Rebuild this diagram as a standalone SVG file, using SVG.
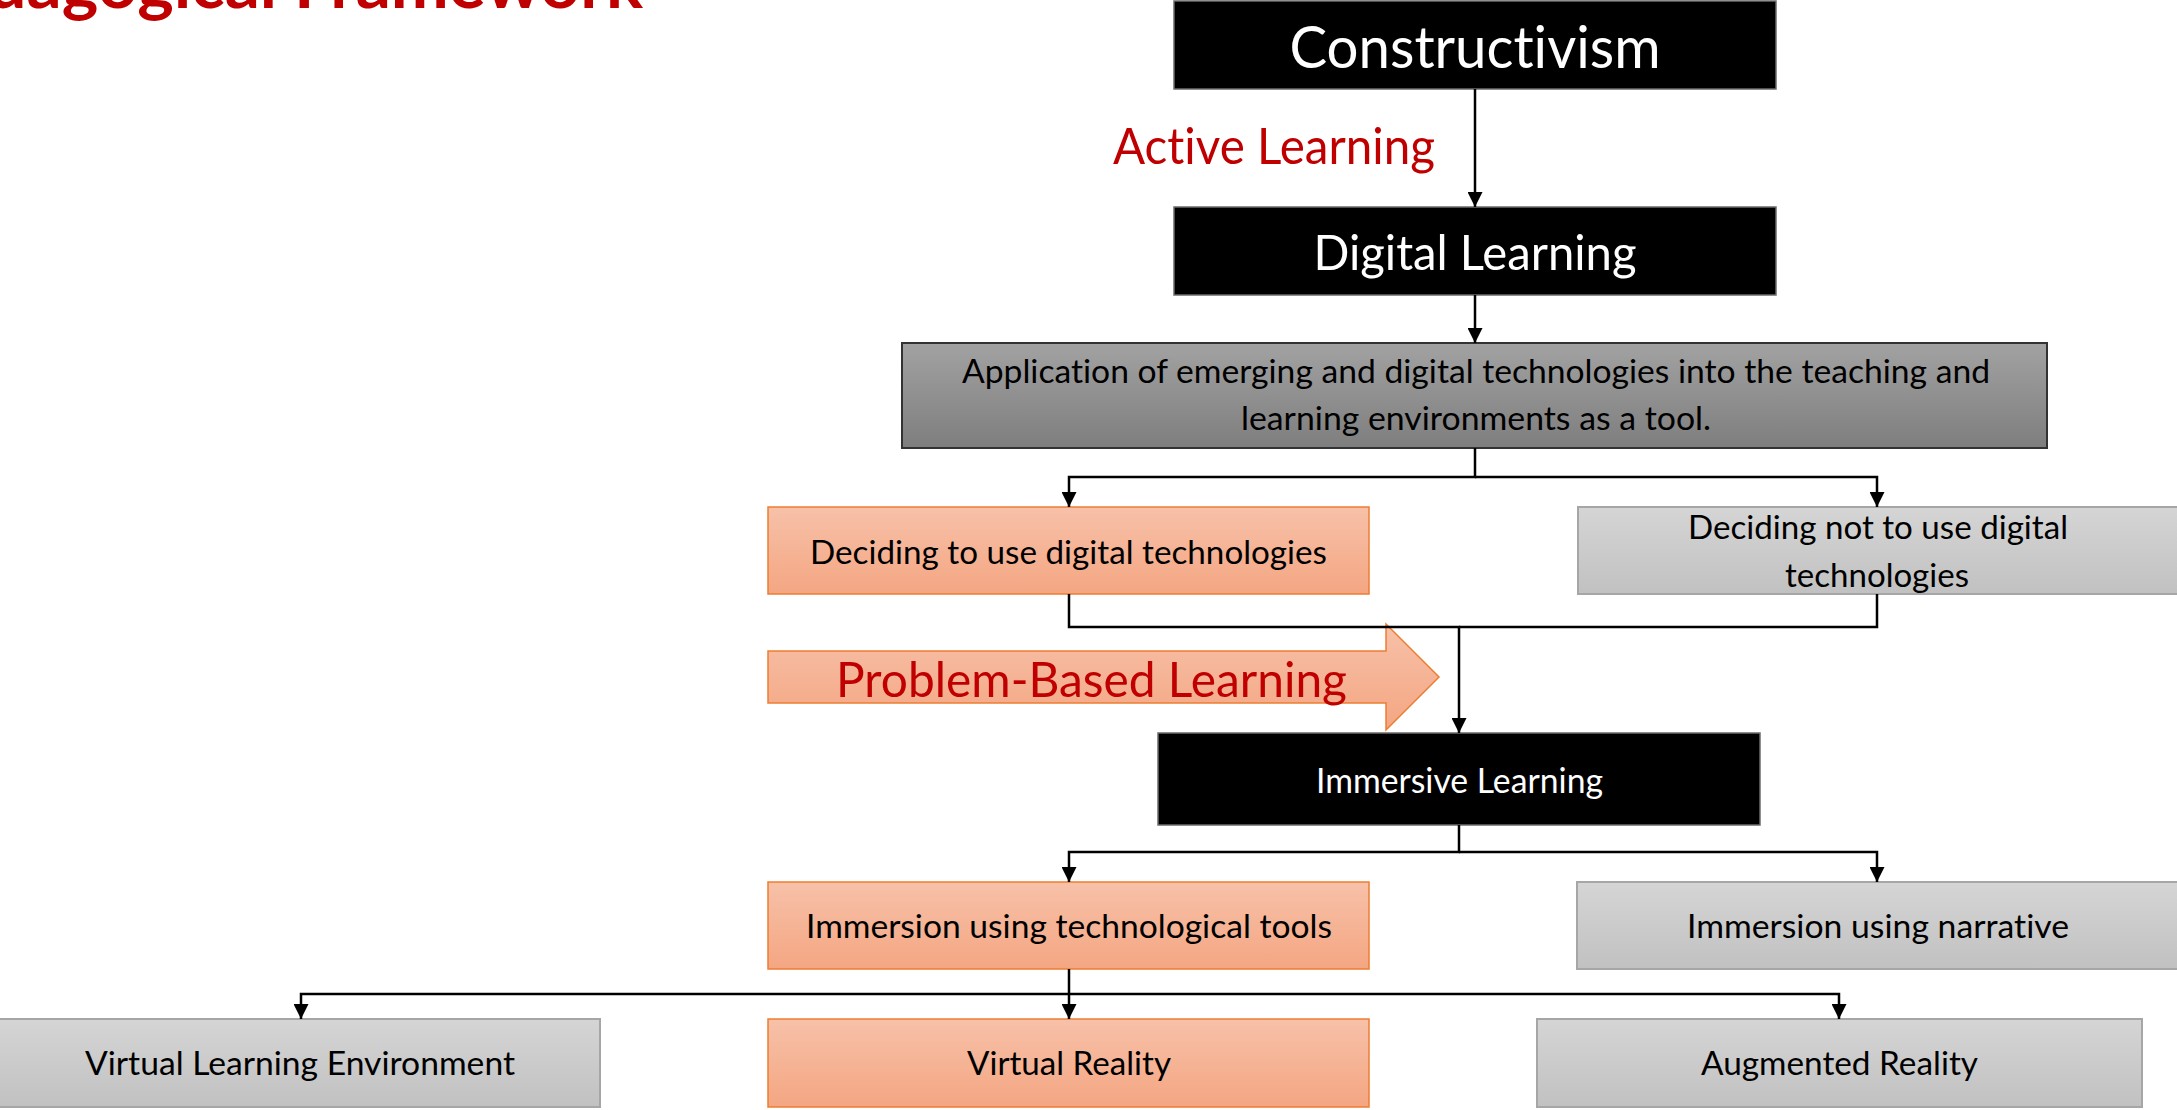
<svg xmlns="http://www.w3.org/2000/svg" width="2177" height="1110" viewBox="0 0 2177 1110">
  <defs>
    <linearGradient id="gOrange" x1="0" y1="0" x2="0" y2="1">
      <stop offset="0" stop-color="#f7c1a9"/>
      <stop offset="1" stop-color="#f4a682"/>
    </linearGradient>
    <linearGradient id="gGray" x1="0" y1="0" x2="0" y2="1">
      <stop offset="0" stop-color="#d5d5d5"/>
      <stop offset="1" stop-color="#c1c1c1"/>
    </linearGradient>
    <linearGradient id="gDark" x1="0" y1="0" x2="0" y2="1">
      <stop offset="0" stop-color="#a2a2a2"/>
      <stop offset="1" stop-color="#7e7e7e"/>
    </linearGradient>
    <marker id="arr" viewBox="0 0 16 16" refX="16" refY="8" markerWidth="15" markerHeight="15" orient="auto" markerUnits="userSpaceOnUse">
      <path d="M0,0 L16,8 L0,16 z" fill="#000"/>
    </marker>
    <style>
      text { font-family: Lato, "Open Sans", "Liberation Sans", sans-serif; font-variant-ligatures: none; }
      .blk { fill: #000; stroke: #6b6b6b; stroke-width: 1.5; }
      .org { fill: url(#gOrange); stroke: #ed7d31; stroke-width: 1.5; }
      .gry { fill: url(#gGray); stroke: #a6a6a6; stroke-width: 2; }
      .drk { fill: url(#gDark); stroke: #333; stroke-width: 2; }
      .wt { fill: #fff; text-anchor: middle; }
      .bt { fill: #000; text-anchor: middle; font-size: 33px; }
      .red { fill: #c00000; }
      .conn { fill: none; stroke: #000; stroke-width: 2.5; }
    </style>
  </defs>
  <rect width="2177" height="1110" fill="#fff"/>

  <g id="title">
    <text x="-91" y="8" font-size="66" font-weight="bold" class="red" textLength="734" lengthAdjust="spacingAndGlyphs">Pedagogical Framework</text>
  </g>

  <g id="constructivism">
    <rect class="blk" x="1174" y="1" width="602" height="88"/>
    <text class="wt" x="1475" y="68" font-size="58" textLength="371" lengthAdjust="spacingAndGlyphs">Constructivism</text>
  </g>

  <g id="active-learning">
    <text class="red" x="1113" y="164" font-size="50" textLength="322" lengthAdjust="spacingAndGlyphs">Active Learning</text>
  </g>

  <g id="digital-learning">
    <rect class="blk" x="1174" y="207" width="602" height="88"/>
    <text class="wt" x="1475" y="270" font-size="49" textLength="323" lengthAdjust="spacingAndGlyphs">Digital Learning</text>
  </g>

  <g id="application">
    <rect class="drk" x="902" y="343" width="1145" height="105"/>
    <text class="bt" x="1476" y="383" textLength="1028" lengthAdjust="spacingAndGlyphs">Application of emerging and digital technologies into the teaching and</text>
    <text class="bt" x="1476" y="430" textLength="470" lengthAdjust="spacingAndGlyphs">learning environments as a tool.</text>
  </g>

  <g id="deciding-use">
    <rect class="org" x="768" y="507" width="601" height="87"/>
    <text class="bt" x="1068.5" y="564" textLength="517" lengthAdjust="spacingAndGlyphs">Deciding to use digital technologies</text>
  </g>

  <g id="deciding-not">
    <rect class="gry" x="1578" y="507" width="604" height="87"/>
    <text class="bt" x="1878" y="539" textLength="380" lengthAdjust="spacingAndGlyphs">Deciding not to use digital</text>
    <text class="bt" x="1877" y="587" textLength="184" lengthAdjust="spacingAndGlyphs">technologies</text>
  </g>

  <g id="problem-based-learning">
    <polygon class="org" stroke-width="1" points="768,651 1386,651 1386,624 1439,677 1386,730 1386,703 768,703"/>
    <text class="red" x="836" y="697" font-size="49" textLength="511" lengthAdjust="spacingAndGlyphs">Problem-Based Learning</text>
  </g>

  <g id="immersive-learning">
    <rect class="blk" x="1158" y="733" width="602" height="92"/>
    <text class="wt" x="1459.5" y="793" font-size="35" textLength="287" lengthAdjust="spacingAndGlyphs">Immersive Learning</text>
  </g>

  <g id="immersion-tools">
    <rect class="org" x="768" y="882" width="601" height="87"/>
    <text class="bt" x="1069" y="938" textLength="526" lengthAdjust="spacingAndGlyphs">Immersion using technological tools</text>
  </g>

  <g id="immersion-narrative">
    <rect class="gry" x="1577" y="882" width="605" height="87"/>
    <text class="bt" x="1878" y="938" textLength="382" lengthAdjust="spacingAndGlyphs">Immersion using narrative</text>
  </g>

  <g id="vle">
    <rect class="gry" x="-2" y="1019" width="602" height="88"/>
    <text class="bt" x="300" y="1075" textLength="430" lengthAdjust="spacingAndGlyphs">Virtual Learning Environment</text>
  </g>

  <g id="vr">
    <rect class="org" x="768" y="1019" width="601" height="88"/>
    <text class="bt" x="1069" y="1075" textLength="204" lengthAdjust="spacingAndGlyphs">Virtual Reality</text>
  </g>

  <g id="ar">
    <rect class="gry" x="1537" y="1019" width="605" height="88"/>
    <text class="bt" x="1839.5" y="1075" textLength="277" lengthAdjust="spacingAndGlyphs">Augmented Reality</text>
  </g>

  <g id="connectors">
    <path class="conn" d="M1475,89 V207" marker-end="url(#arr)"/>
    <path class="conn" d="M1475,295 V343" marker-end="url(#arr)"/>
    <path class="conn" d="M1475,448 V477 H1069 V507" marker-end="url(#arr)"/>
    <path class="conn" d="M1475,477 H1877 V507" marker-end="url(#arr)"/>
    <path class="conn" d="M1069,594 V627 H1459 V733" marker-end="url(#arr)"/>
    <path class="conn" d="M1877,594 V627 H1459"/>
    <path class="conn" d="M1459,825 V852 H1069 V882" marker-end="url(#arr)"/>
    <path class="conn" d="M1459,852 H1877 V882" marker-end="url(#arr)"/>
    <path class="conn" stroke-width="3.5" d="M1069,969 V1019" marker-end="url(#arr)"/>
    <path class="conn" stroke-width="3" d="M1069,994 H301 V1019" marker-end="url(#arr)"/>
    <path class="conn" stroke-width="3" d="M1069,994 H1839 V1019" marker-end="url(#arr)"/>
  </g>
</svg>
